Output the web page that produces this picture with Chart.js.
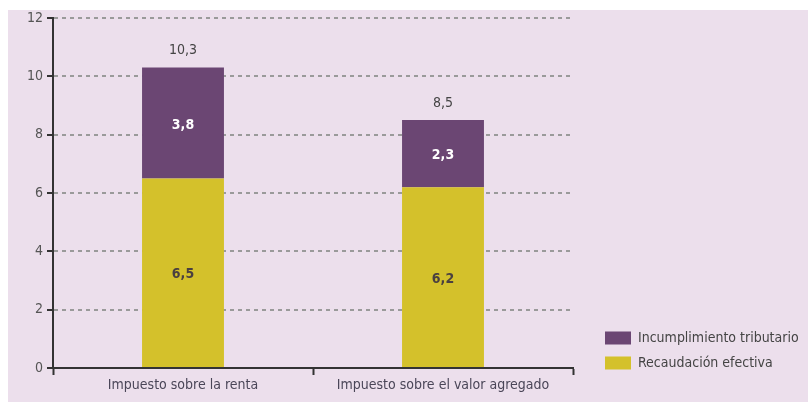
<!DOCTYPE html>
<html>
<head>
<meta charset="utf-8">
<script src="https://cdn.jsdelivr.net/npm/chart.js@4.4.1/dist/chart.umd.min.js"></script>
<style>
  html, body { margin: 0; padding: 0; background: #ffffff; }
  #wrap { width: 808px; height: 402px; }
</style>
</head>
<body>
<div id="wrap"><canvas id="chart" width="808" height="402"></canvas></div>
<script>
const categories = ['Impuesto sobre la renta', 'Impuesto sobre el valor agregado'];
const recaudacion = [6.5, 6.2];
const incumplimiento = [3.8, 2.3];
const totals = [10.3, 8.5];
const yTicks = [0, 2, 4, 6, 8, 10, 12];

const FONT = "'Liberation Sans Narrow', 'DejaVu Sans Condensed', sans-serif";
const fmt = v => v.toFixed(1).replace('.', ',');

// fondo rosado con margen blanco arriba e izquierda
const bgPlugin = {
  id: 'bg',
  beforeDraw(chart) {
    const ctx = chart.ctx;
    ctx.save();
    ctx.fillStyle = '#ecdfec';
    ctx.fillRect(8, 10, chart.width - 8, chart.height - 10);
    ctx.restore();
  }
};

// etiquetas de valores dentro de las barras y totales arriba
const labelPlugin = {
  id: 'labels',
  afterDatasetsDraw(chart) {
    const ctx = chart.ctx;
    ctx.save();
    ctx.textAlign = 'center';
    ctx.textBaseline = 'middle';
    chart.data.datasets.forEach((ds, di) => {
      chart.getDatasetMeta(di).data.forEach((bar, i) => {
        const mid = (bar.y + bar.base) / 2;
        ctx.font = 'bold 14px ' + FONT;
        ctx.fillStyle = di === 1 ? '#ffffff' : '#4a4040';
        ctx.fillText(fmt(ds.data[i]), bar.x, mid + 2);
        if (di === 1) {
          ctx.font = '14px ' + FONT;
          ctx.fillStyle = '#444444';
          ctx.fillText(fmt(totals[i]), bar.x, bar.y - 17);
        }
      });
    });
    ctx.restore();
  }
};

// leyenda a la derecha, abajo
const legendPlugin = {
  id: 'customLegend',
  afterDraw(chart) {
    const ctx = chart.ctx;
    const items = [chart.data.datasets[1], chart.data.datasets[0]];
    ctx.save();
    ctx.font = '14px ' + FONT;
    ctx.textBaseline = 'middle';
    ctx.textAlign = 'left';
    items.forEach((ds, i) => {
      const y = 338 + i * 25;
      ctx.fillStyle = ds.backgroundColor;
      ctx.fillRect(605, y - 6.5, 26, 13);
      ctx.fillStyle = '#444444';
      ctx.fillText(ds.label, 638, y);
    });
    ctx.restore();
  }
};

new Chart(document.getElementById('chart'), {
  type: 'bar',
  data: {
    labels: categories,
    datasets: [
      {
        label: 'Recaudación efectiva',
        data: recaudacion,
        backgroundColor: '#d4c12b',
        barPercentage: 0.315,
        categoryPercentage: 1
      },
      {
        label: 'Incumplimiento tributario',
        data: incumplimiento,
        backgroundColor: '#6b4673',
        barPercentage: 0.315,
        categoryPercentage: 1
      }
    ]
  },
  options: {
    responsive: false,
    animation: false,
    layout: { padding: { top: 18, right: 235, left: 0, bottom: 0 } },
    plugins: {
      legend: { display: false },
      tooltip: { enabled: false }
    },
    scales: {
      x: {
        stacked: true,
        afterFit: s => { s.height = 34; },
        grid: {
          offset: true,
          drawOnChartArea: false,
          drawTicks: true,
          tickLength: 7,
          tickColor: '#333333',
          tickWidth: 2,
          color: '#333333'
        },
        border: { display: true, color: '#333333', width: 2 },
        ticks: {
          padding: 2,
          color: '#4a4658',
          font: { family: FONT, size: 14 }
        }
      },
      y: {
        stacked: true,
        min: 0,
        max: 12,
        afterFit: s => { s.width = 53; },
        afterBuildTicks: s => { s.ticks = yTicks.map(v => ({ value: v })); },
        grid: {
          color: '#9a9a9a',
          lineWidth: 2,
          drawTicks: true,
          tickLength: 6,
          tickColor: '#333333',
          tickWidth: 2,
          tickBorderDash: []
        },
        border: { display: true, color: '#333333', width: 2, dash: [4, 4] },
        ticks: {
          padding: 4,
          color: '#555555',
          font: { family: FONT, size: 14 }
        }
      }
    }
  },
  plugins: [bgPlugin, labelPlugin, legendPlugin]
});
</script>
</body>
</html>
